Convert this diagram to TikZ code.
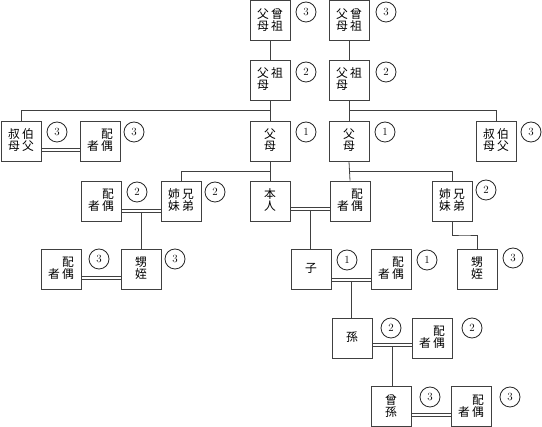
\documentclass[tikz,border=0pt]{standalone}
\usepackage{fontspec}
\newfontfamily\cjk{Noto Sans CJK JP}
\usetikzlibrary{calc}
\newcommand\kq[5]{%
  \node[ch] at ([shift={(-7pt,6pt)}]#1.center) {#2};
  \node[ch] at ([shift={(7pt,6pt)}]#1.center) {#3};
  \node[ch] at ([shift={(-7pt,-6pt)}]#1.center) {#4};
  \node[ch] at ([shift={(7pt,-6pt)}]#1.center) {#5};}
\newcommand\kv[3]{%
  \node[ch] at ([shift={(0pt,6pt)}]#1.center) {#2};
  \node[ch] at ([shift={(0pt,-6pt)}]#1.center) {#3};}
\newcommand\ko[2]{\node[ch] at (#1.center) {#2};}
% marriage: two parallel lines, #3 = offset below centre (pt)
\newcommand\marr[3]{%
  \draw[ln] ([yshift={-(#3-1.5)*1pt}]#1.east) -- ([yshift={-(#3-1.5)*1pt}]#2.west);
  \draw[ln] ([yshift={-(#3+1.5)*1pt}]#1.east) -- ([yshift={-(#3+1.5)*1pt}]#2.west);}
\begin{document}
\begin{tikzpicture}[x=1pt,y=-1pt,
  box/.style={draw=black!75, line width=0.8pt, minimum width=40pt, minimum height=40pt, inner sep=0pt},
  ch/.style={font=\cjk\fontsize{11.8}{11.8}\selectfont, inner sep=0pt, text height=0.88em, text depth=0.12em, anchor=center},
  num/.style={circle, draw=black!85, line width=0.8pt, minimum size=20pt, inner sep=0pt, font=\fontsize{11}{11}\selectfont},
  ln/.style={draw=black!75, line width=0.8pt}]
\useasboundingbox (0,0) rectangle (542,427);

% boxes
\node[box] (ggp1) at (270,20.5) {};
\node[box] (ggp2) at (349,20.5) {};
\node[box] (gp1) at (270,80) {};
\node[box] (gp2) at (349,80) {};
\node[box] (uncL) at (21,141) {};
\node[box] (uncLsp) at (100,141) {};
\node[box] (par1) at (270,141) {};
\node[box] (par2) at (349,141) {};
\node[box] (uncR) at (496,141) {};
\node[box] (sibLsp) at (101,201) {};
\node[box] (sibL) at (181,201) {};
\node[box] (self) at (270,201) {};
\node[box] (selfsp) at (350,201) {};
\node[box] (sibR) at (452,201) {};
\node[box] (nepLsp) at (61,269) {};
\node[box] (nepL) at (141,269) {};
\node[box] (nepR) at (477,269) {};
\node[box] (child) at (311,269) {};
\node[box] (childsp) at (391,269) {};
\node[box] (gc) at (352,338) {};
\node[box] (gcsp) at (432,338) {};
\node[box] (ggc) at (391,406.5) {};
\node[box] (ggcsp) at (471,406.5) {};

% texts
\kq{ggp1}{父}{曾}{母}{祖}
\kq{ggp2}{父}{曾}{母}{祖}
\kq{gp1}{父}{祖}{母}{}
\kq{gp2}{父}{祖}{母}{}
\kq{uncL}{叔}{伯}{母}{父}
\kq{uncLsp}{}{配}{者}{偶}
\kv{par1}{父}{母}
\kv{par2}{父}{母}
\kq{uncR}{叔}{伯}{母}{父}
\kq{sibLsp}{}{配}{者}{偶}
\kq{sibL}{姉}{兄}{妹}{弟}
\kv{self}{本}{人}
\kq{selfsp}{}{配}{者}{偶}
\kq{sibR}{姉}{兄}{妹}{弟}
\kq{nepLsp}{}{配}{者}{偶}
\kv{nepL}{甥}{姪}
\kv{nepR}{甥}{姪}
\ko{child}{子}
\kq{childsp}{}{配}{者}{偶}
\ko{gc}{孫}
\kq{gcsp}{}{配}{者}{偶}
\kv{ggc}{曾}{孫}
\kq{ggcsp}{}{配}{者}{偶}

% degree circles
\node[num] (d1) at (306,12) {3};
\node[num] (d2) at (386,12) {3};
\node[num] (d3) at (306,72) {2};
\node[num] (d4) at (386,72) {2};
\node[num] (d5) at (57,132) {3};
\node[num] (d6) at (134,132) {3};
\node[num] (d7) at (306,132) {1};
\node[num] (d8) at (385,132) {1};
\node[num] (d9) at (531,132) {3};
\node[num] (d10) at (137,192) {2};
\node[num] (d11) at (215,192) {2};
\node[num] (d12) at (486,190) {2};
\node[num] (d13) at (99,259) {3};
\node[num] (d14) at (175,259) {3};
\node[num] (d15) at (513,258) {3};
\node[num] (d16) at (347,260) {1};
\node[num] (d17) at (427,260) {1};
\node[num] (d18) at (391,328) {2};
\node[num] (d19) at (472,328) {2};
\node[num] (d20) at (430,397) {3};
\node[num] (d21) at (510,397) {3};

% vertical lineage
\draw[ln] (ggp1.south) -- (gp1.north);
\draw[ln] (ggp2.south) -- (gp2.north);
\draw[ln] (gp1.south) -- (par1.north);
\draw[ln] (gp2.south) -- (par2.north);
\draw[ln] (par1.south) -- (self.north);
\draw[ln] (par2.south) -- (selfsp.north);

\coordinate (j1) at ($(gp1.south)!0.5!(par1.north)$);
\coordinate (j2) at ($(gp2.south)!0.5!(par2.north)$);
\coordinate (j3) at ($(par1.south)!0.5!(self.north)$);
\coordinate (j4) at ($(par2.south)!0.5!(selfsp.north)$);
\draw[ln] (uncL.north) |- (j1);
\draw[ln] (uncR.north) |- (j2);
\draw[ln] (sibL.north) |- (j3);
\draw[ln] (sibR.north) |- (j4);

\coordinate (k1) at ($(sibR.south)!0.5!(nepR.north)$);
\draw[ln] (sibR.south) |- (k1) -| (nepR.north);

% marriages
\marr{uncL}{uncLsp}{8.5}
\marr{sibLsp}{sibL}{9.5}
\marr{nepLsp}{nepL}{8.5}
\marr{self}{selfsp}{7.5}
\marr{child}{childsp}{10.5}
\marr{gc}{gcsp}{7}
\marr{ggc}{ggcsp}{8}

% descent from marriages
\coordinate (m1) at ($([yshift=-11pt]sibLsp.east)!0.5!([yshift=-11pt]sibL.west)$);
\coordinate (m2) at ($([yshift=-9pt]self.east)!0.5!([yshift=-9pt]selfsp.west)$);
\coordinate (m3) at ($([yshift=-12pt]child.east)!0.5!([yshift=-12pt]childsp.west)$);
\coordinate (m4) at ($([yshift=-8.5pt]gc.east)!0.5!([yshift=-8.5pt]gcsp.west)$);
\draw[ln] (m1) -- (m1 |- nepL.north);
\draw[ln] (m2) -- (m2 |- child.north);
\draw[ln] (m3) -- (m3 |- gc.north);
\draw[ln] (m4) -- (m4 |- ggc.north);
\end{tikzpicture}
\end{document}
